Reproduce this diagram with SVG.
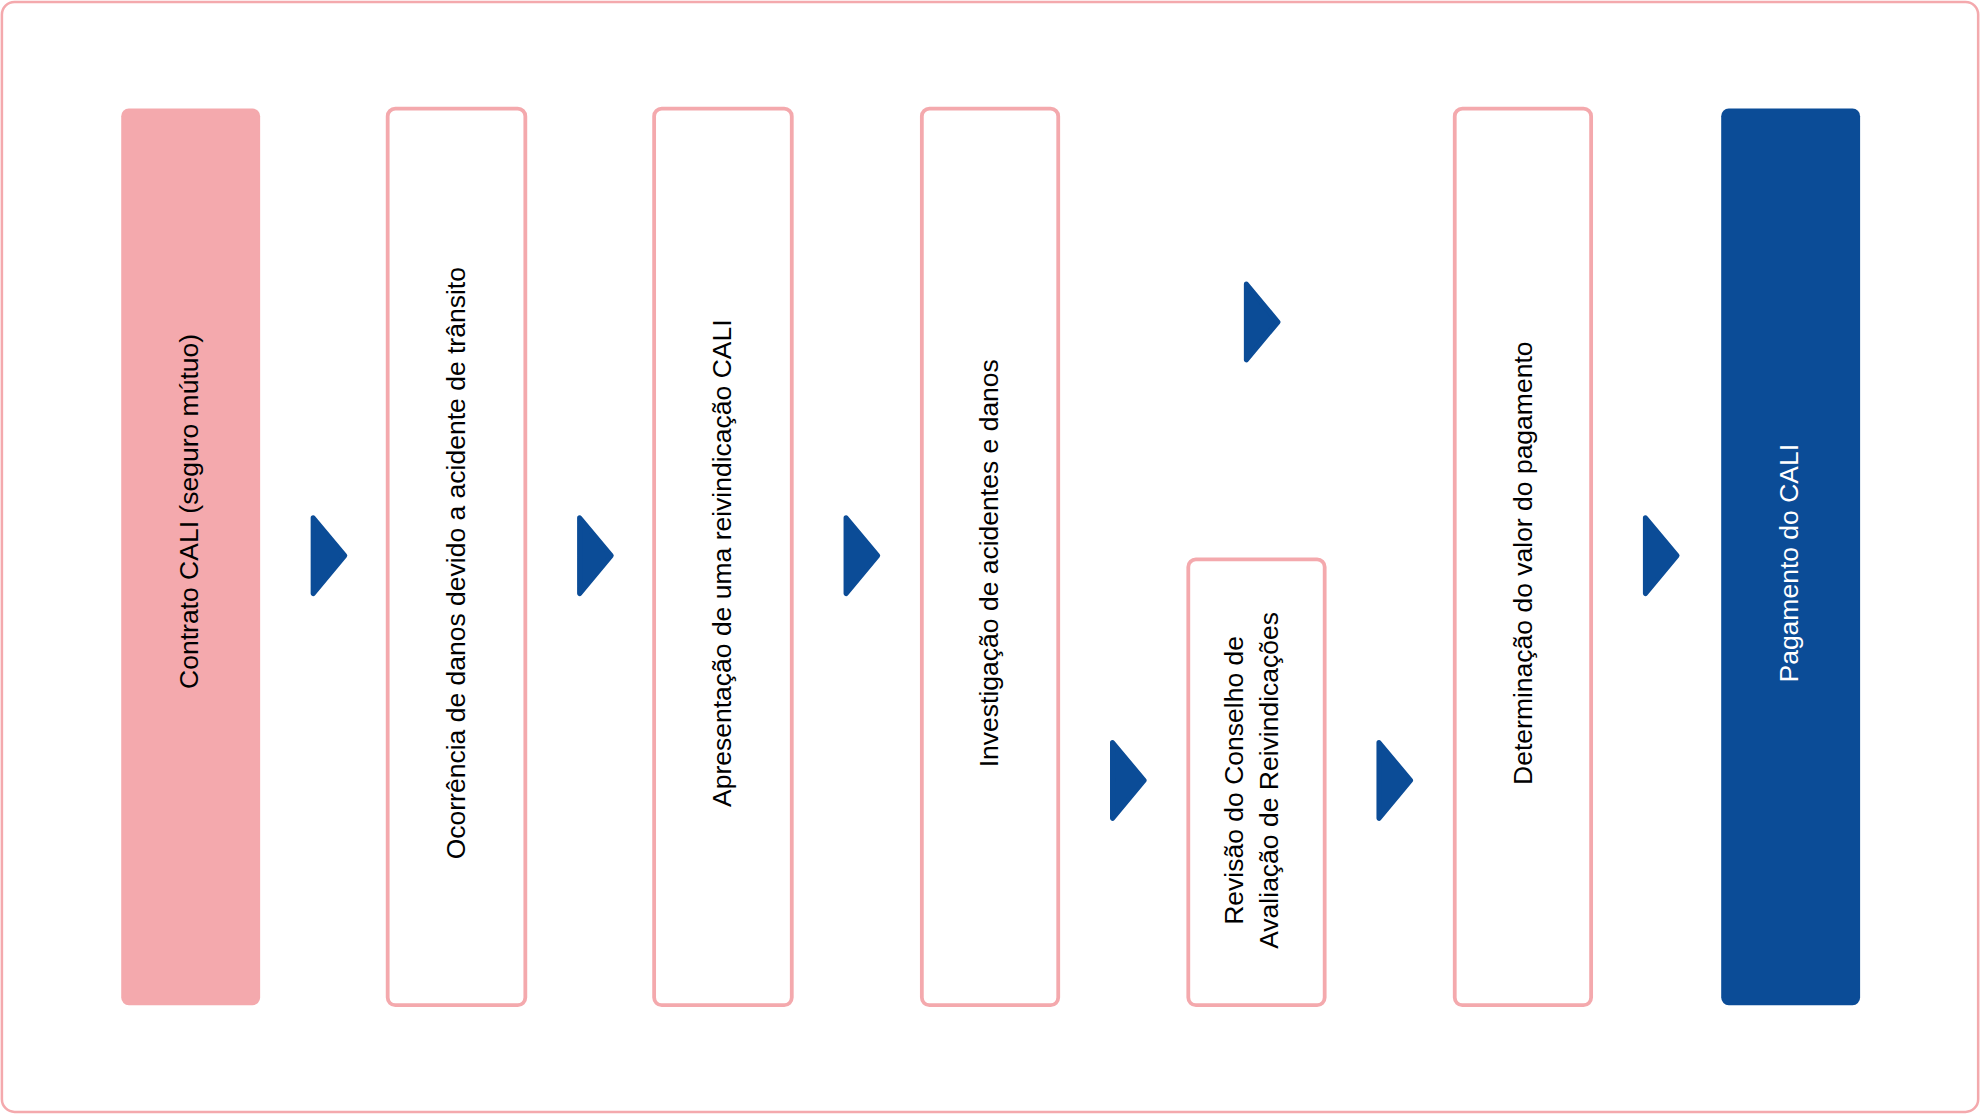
<svg xmlns="http://www.w3.org/2000/svg" width="1980" height="1114" viewBox="0 0 1980 1114">
<defs><style>
.b{fill:#fff;stroke:#f4a9ad;stroke-width:3}
.t{font-family:"Liberation Sans",Arial,sans-serif;font-size:21px;fill:#000;text-anchor:middle;dominant-baseline:central}
.a{fill:#0b4c97;stroke:#0b4c97;stroke-width:4;stroke-linejoin:round}
</style>
<polygon id="chev" points="0,-30 25,0 0,30" class="a"/></defs>
<rect width="1980" height="1114" fill="#fff"/>
<g transform="scale(1.2628)">
<rect x="1.5" y="1.5" width="1565" height="879" rx="10" fill="none" stroke="#f4a9ad" stroke-width="2"/>
<g id="n1"><rect x="96" y="86" width="110" height="710" rx="6" fill="#f4a9ad"/><text class="t" transform="translate(150,405) rotate(-90)">Contrato CALI (seguro mútuo)</text></g>
<g id="n2"><rect class="b" x="307" y="86" width="109" height="710" rx="6"/><text class="t" transform="translate(361,446) rotate(-90)">Ocorrência de danos devido a acidente de trânsito</text></g>
<g id="n3"><rect class="b" x="518" y="86" width="109" height="710" rx="6"/><text class="t" transform="translate(572,446) rotate(-90)">Apresentação de uma reivindicação CALI</text></g>
<g id="n4"><rect class="b" x="730" y="86" width="108" height="710" rx="6"/><text class="t" transform="translate(783,446) rotate(-90)">Investigação de acidentes e danos</text></g>
<g id="n5"><rect class="b" x="941" y="443" width="108" height="353" rx="6"/><text class="t" transform="translate(977,618) rotate(-90)">Revisão do Conselho de</text><text class="t" transform="translate(1005,618) rotate(-90)">Avaliação de Reivindicações</text></g>
<g id="n6"><rect class="b" x="1152" y="86" width="108" height="710" rx="6"/><text class="t" transform="translate(1206,446) rotate(-90)">Determinação do valor do pagamento</text></g>
<g id="n7"><rect x="1363" y="86" width="110" height="710" rx="6" fill="#0b4c97"/><text class="t" style="fill:#fff" transform="translate(1417,446) rotate(-90)">Pagamento do CALI</text></g>
<g id="connectors">
<use href="#chev" x="248" y="440"/>
<use href="#chev" x="459" y="440"/>
<use href="#chev" x="670" y="440"/>
<use href="#chev" x="881" y="618"/>
<use href="#chev" x="987" y="255"/>
<use href="#chev" x="1092" y="618"/>
<use href="#chev" x="1303" y="440"/>
</g>
</g>
</svg>
